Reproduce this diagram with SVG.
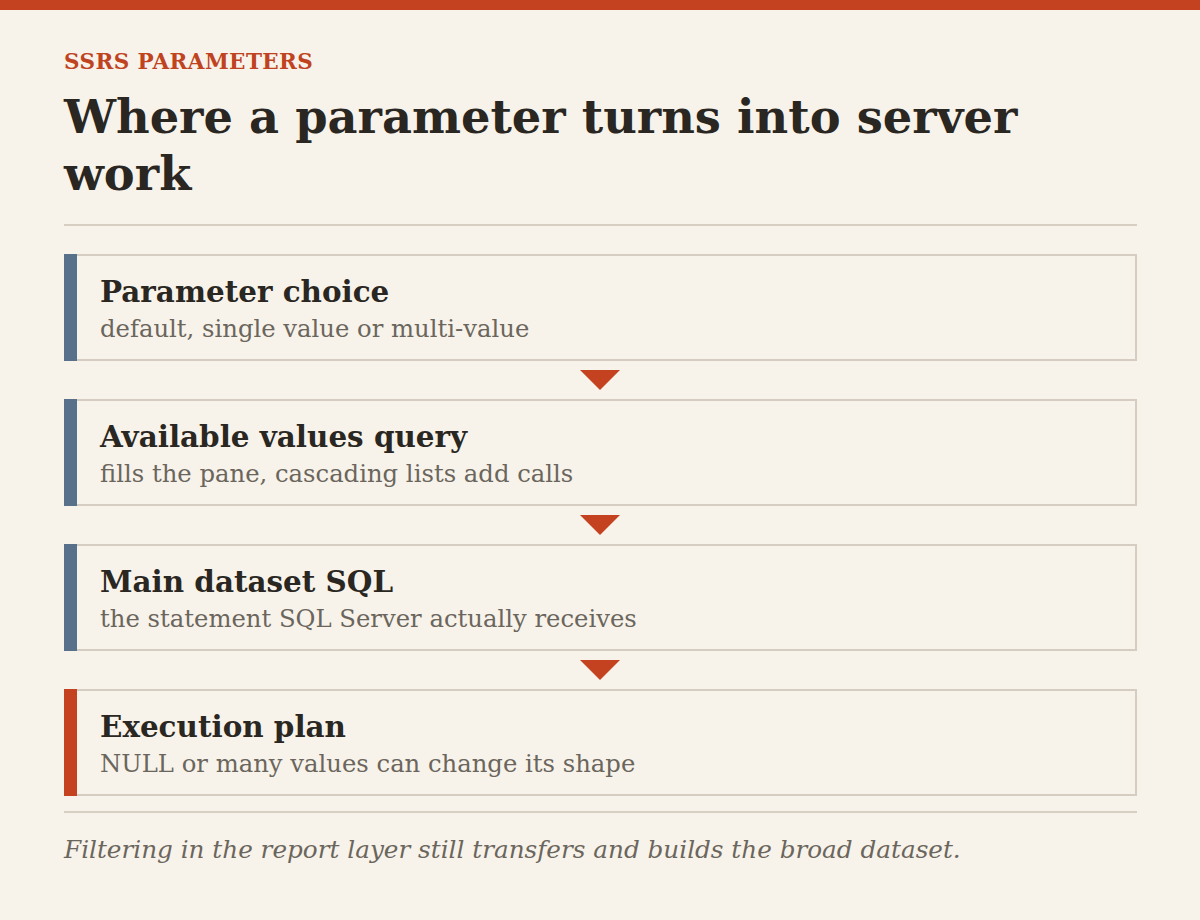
<svg xmlns="http://www.w3.org/2000/svg" width="1200" height="920" viewBox="0 0 1200 920">
<style>
.bg{fill:#f8f3ea}
.eyebrow{font-family:"DejaVu Serif",serif;font-weight:700;font-size:21.5px;fill:#c0431f;letter-spacing:0.4px}
.title{font-family:"DejaVu Serif",serif;font-weight:700;font-size:46.3px;fill:#2a2722}
.rule{stroke:#d8cfc3;stroke-width:2}
.box{fill:#f8f3ea;stroke:#d5cdc1;stroke-width:2}
.bar-blue{fill:#587089}
.bar-red{fill:#c4421f}
.h{font-family:"DejaVu Serif",serif;font-weight:700;font-size:29.4px;fill:#2a2722}
.s{font-family:"DejaVu Serif",serif;font-size:24.3px;fill:#6b665d}
.foot{font-family:"DejaVu Serif",serif;font-style:italic;font-size:24.7px;fill:#6b665d}
.arrow{fill:#c4421f}
</style>
<rect class="bg" x="0" y="0" width="1200" height="920"/>
<rect x="0" y="0" width="1200" height="10" fill="#c4421f"/>
<text class="eyebrow" x="64" y="69">SSRS PARAMETERS</text>
<text class="title" x="64" y="133">Where a parameter turns into server</text>
<text class="title" x="64" y="190">work</text>
<line class="rule" x1="64" y1="225" x2="1137" y2="225"/>
<g id="node-1">
<rect class="box" x="65" y="255" width="1071" height="105"/>
<rect class="bar-blue" x="64" y="254" width="13" height="107"/>
<text class="h" x="100" y="302">Parameter choice</text>
<text class="s" x="100" y="337">default, single value or multi-value</text>
</g>
<g id="node-2">
<rect class="box" x="65" y="400" width="1071" height="105"/>
<rect class="bar-blue" x="64" y="399" width="13" height="107"/>
<text class="h" x="100" y="447">Available values query</text>
<text class="s" x="100" y="482">fills the pane, cascading lists add calls</text>
</g>
<g id="node-3">
<rect class="box" x="65" y="545" width="1071" height="105"/>
<rect class="bar-blue" x="64" y="544" width="13" height="107"/>
<text class="h" x="100" y="592">Main dataset SQL</text>
<text class="s" x="100" y="627">the statement SQL Server actually receives</text>
</g>
<g id="node-4">
<rect class="box" x="65" y="690" width="1071" height="105"/>
<rect class="bar-red" x="64" y="689" width="13" height="107"/>
<text class="h" x="100" y="737">Execution plan</text>
<text class="s" x="100" y="772">NULL or many values can change its shape</text>
</g>
<g id="connectors">
<polygon class="arrow" points="580,370 620,370 600,390"/>
<polygon class="arrow" points="580,515 620,515 600,535"/>
<polygon class="arrow" points="580,660 620,660 600,680"/>
</g>
<line class="rule" x1="64" y1="812" x2="1137" y2="812"/>
<text class="foot" x="64" y="858">Filtering in the report layer still transfers and builds the broad dataset.</text>
</svg>
